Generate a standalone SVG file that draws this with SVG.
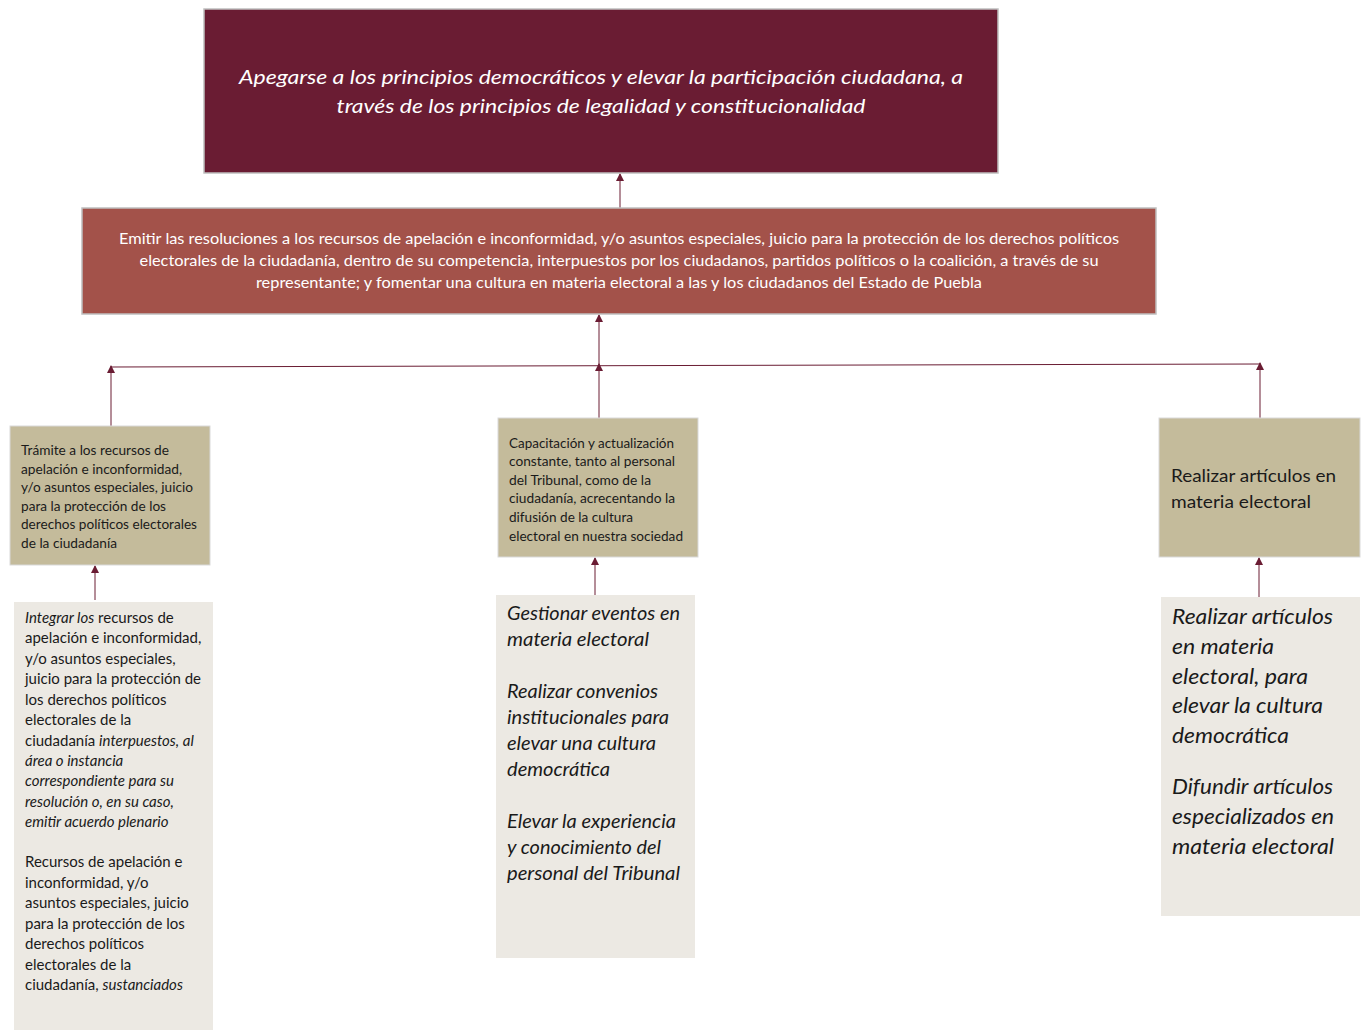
<svg xmlns="http://www.w3.org/2000/svg" width="1362" height="1030" viewBox="0 0 1362 1030">
<style>
text{font-family:Lato,"Open Sans","Liberation Sans",sans-serif}
.top{fill:#6A1C33;stroke:#BFBFBF;stroke-width:1.5}
.mid{fill:#A3524A;stroke:#BFBFBF;stroke-width:1.5}
.tan{fill:#C4BB9B;stroke:#D9D9D9;stroke-width:1}
.lt{fill:#ECE9E3}
.w{fill:#FFFFFF}
.k{fill:#1A1A1A}
.i{font-style:italic}
.c{stroke:#6A1C33;stroke-width:1;fill:none}
</style>
<defs>
<marker id="ah" markerWidth="8" markerHeight="8" refX="7" refY="4" orient="auto" markerUnits="userSpaceOnUse">
<path d="M0,0 L8,4 L0,8 Z" fill="#6A1C33"/>
</marker>
</defs>
<rect width="1362" height="1030" fill="#FFFFFF"/>
<g id="connectors">
<line class="c" x1="620" y1="208" x2="620" y2="174" marker-end="url(#ah)"/>
<line class="c" x1="599" y1="366" x2="599" y2="315" marker-end="url(#ah)"/>
<line class="c" x1="111" y1="367" x2="1260" y2="364"/>
<line class="c" x1="111" y1="426" x2="111" y2="366" marker-end="url(#ah)"/>
<line class="c" x1="599" y1="418" x2="599" y2="364" marker-end="url(#ah)"/>
<line class="c" x1="1260" y1="418" x2="1260" y2="363" marker-end="url(#ah)"/>
<line class="c" x1="95" y1="600" x2="95" y2="566" marker-end="url(#ah)"/>
<line class="c" x1="595" y1="595" x2="595" y2="558" marker-end="url(#ah)"/>
<line class="c" x1="1259" y1="597" x2="1259" y2="558" marker-end="url(#ah)"/>
</g>
<g id="n-top">
<rect class="top" x="204" y="9" width="794" height="164"/>
<text class="w i" font-size="20" text-anchor="middle"><tspan x="601" y="84" textLength="724" lengthAdjust="spacingAndGlyphs">Apegarse a los principios democráticos y elevar la participación ciudadana, a</tspan><tspan x="601" y="113" textLength="529" lengthAdjust="spacingAndGlyphs">través de los principios de legalidad y constitucionalidad</tspan></text>
</g>
<g id="n-mid">
<rect class="mid" x="82" y="208" width="1074" height="106"/>
<text class="w" font-size="15" text-anchor="middle"><tspan x="619" y="244" textLength="1000" lengthAdjust="spacingAndGlyphs">Emitir las resoluciones a los recursos de apelación e inconformidad, y/o asuntos especiales, juicio para la protección de los derechos políticos</tspan><tspan x="619" y="266" textLength="959" lengthAdjust="spacingAndGlyphs">electorales de la ciudadanía, dentro de su competencia, interpuestos por los ciudadanos, partidos políticos o la coalición, a través de su</tspan><tspan x="619" y="288" textLength="726" lengthAdjust="spacingAndGlyphs">representante; y fomentar una cultura en materia electoral a las y los ciudadanos del Estado de Puebla</tspan></text>
</g>
<g id="n-left">
<rect class="tan" x="10" y="426" width="200" height="139"/>
<text class="k" font-size="13"><tspan x="21" y="455" textLength="148" lengthAdjust="spacingAndGlyphs">Trámite a los recursos de</tspan><tspan x="21" y="474" textLength="161" lengthAdjust="spacingAndGlyphs">apelación e inconformidad,</tspan><tspan x="21" y="492" textLength="172" lengthAdjust="spacingAndGlyphs">y/o asuntos especiales, juicio</tspan><tspan x="21" y="511" textLength="145" lengthAdjust="spacingAndGlyphs">para la protección de los</tspan><tspan x="21" y="529" textLength="176" lengthAdjust="spacingAndGlyphs">derechos políticos electorales</tspan><tspan x="21" y="548" textLength="96" lengthAdjust="spacingAndGlyphs">de la ciudadanía</tspan></text>
</g>
<g id="n-left-sub">
<rect class="lt" x="14" y="602" width="199" height="428"/>
<text class="k" font-size="15">
<tspan x="25" y="623"><tspan class="i">Integrar los</tspan> recursos de</tspan>
<tspan x="25" y="643">apelación e inconformidad,</tspan>
<tspan x="25" y="664">y/o asuntos especiales,</tspan>
<tspan x="25" y="684">juicio para la protección de</tspan>
<tspan x="25" y="705">los derechos políticos</tspan>
<tspan x="25" y="725">electorales de la</tspan>
<tspan x="25" y="746">ciudadanía <tspan class="i">interpuestos, al</tspan></tspan>
<tspan x="25" y="766" class="i">área o instancia</tspan>
<tspan x="25" y="786" class="i">correspondiente para su</tspan>
<tspan x="25" y="807" class="i">resolución o, en su caso,</tspan>
<tspan x="25" y="827" class="i">emitir acuerdo plenario</tspan>
<tspan x="25" y="867">Recursos de apelación e</tspan>
<tspan x="25" y="888">inconformidad, y/o</tspan>
<tspan x="25" y="908">asuntos especiales, juicio</tspan>
<tspan x="25" y="929">para la protección de los</tspan>
<tspan x="25" y="949">derechos políticos</tspan>
<tspan x="25" y="970">electorales de la</tspan>
<tspan x="25" y="990">ciudadanía, <tspan class="i">sustanciados</tspan></tspan>
</text>
</g>
<g id="n-center">
<rect class="tan" x="498" y="418" width="200" height="139"/>
<text class="k" font-size="13"><tspan x="509" y="448" textLength="165" lengthAdjust="spacingAndGlyphs">Capacitación y actualización</tspan><tspan x="509" y="466" textLength="166" lengthAdjust="spacingAndGlyphs">constante, tanto al personal</tspan><tspan x="509" y="485" textLength="142" lengthAdjust="spacingAndGlyphs">del Tribunal, como de la</tspan><tspan x="509" y="503" textLength="166" lengthAdjust="spacingAndGlyphs">ciudadanía, acrecentando la</tspan><tspan x="509" y="522" textLength="124" lengthAdjust="spacingAndGlyphs">difusión de la cultura</tspan><tspan x="509" y="541" textLength="174" lengthAdjust="spacingAndGlyphs">electoral en nuestra sociedad</tspan></text>
</g>
<g id="n-center-sub">
<rect class="lt" x="496" y="595" width="199" height="363"/>
<text class="k i" font-size="18.5">
<tspan x="507" y="620" textLength="173" lengthAdjust="spacingAndGlyphs">Gestionar eventos en</tspan>
<tspan x="507" y="646" textLength="142" lengthAdjust="spacingAndGlyphs">materia electoral</tspan>
<tspan x="507" y="698" textLength="151" lengthAdjust="spacingAndGlyphs">Realizar convenios</tspan>
<tspan x="507" y="724" textLength="162" lengthAdjust="spacingAndGlyphs">institucionales para</tspan>
<tspan x="507" y="750" textLength="149" lengthAdjust="spacingAndGlyphs">elevar una cultura</tspan>
<tspan x="507" y="776" textLength="103" lengthAdjust="spacingAndGlyphs">democrática</tspan>
<tspan x="507" y="828" textLength="169" lengthAdjust="spacingAndGlyphs">Elevar la experiencia</tspan>
<tspan x="507" y="854" textLength="154" lengthAdjust="spacingAndGlyphs">y conocimiento del</tspan>
<tspan x="507" y="880" textLength="173" lengthAdjust="spacingAndGlyphs">personal del Tribunal</tspan>
</text>
</g>
<g id="n-right">
<rect class="tan" x="1159" y="418" width="201" height="139"/>
<text class="k" font-size="18"><tspan x="1171" y="482" textLength="165" lengthAdjust="spacingAndGlyphs">Realizar artículos en</tspan><tspan x="1171" y="508" textLength="140" lengthAdjust="spacingAndGlyphs">materia electoral</tspan></text>
</g>
<g id="n-right-sub">
<rect class="lt" x="1161" y="597" width="199" height="319"/>
<text class="k i" font-size="21.5">
<tspan x="1172" y="624" textLength="161" lengthAdjust="spacingAndGlyphs">Realizar artículos</tspan>
<tspan x="1172" y="654" textLength="102" lengthAdjust="spacingAndGlyphs">en materia</tspan>
<tspan x="1172" y="684" textLength="136" lengthAdjust="spacingAndGlyphs">electoral, para</tspan>
<tspan x="1172" y="713" textLength="151" lengthAdjust="spacingAndGlyphs">elevar la cultura</tspan>
<tspan x="1172" y="743" textLength="117" lengthAdjust="spacingAndGlyphs">democrática</tspan>
<tspan x="1172" y="794" textLength="161" lengthAdjust="spacingAndGlyphs">Difundir artículos</tspan>
<tspan x="1172" y="824" textLength="162" lengthAdjust="spacingAndGlyphs">especializados en</tspan>
<tspan x="1172" y="854" textLength="162" lengthAdjust="spacingAndGlyphs">materia electoral</tspan>
</text>
</g>
</svg>
